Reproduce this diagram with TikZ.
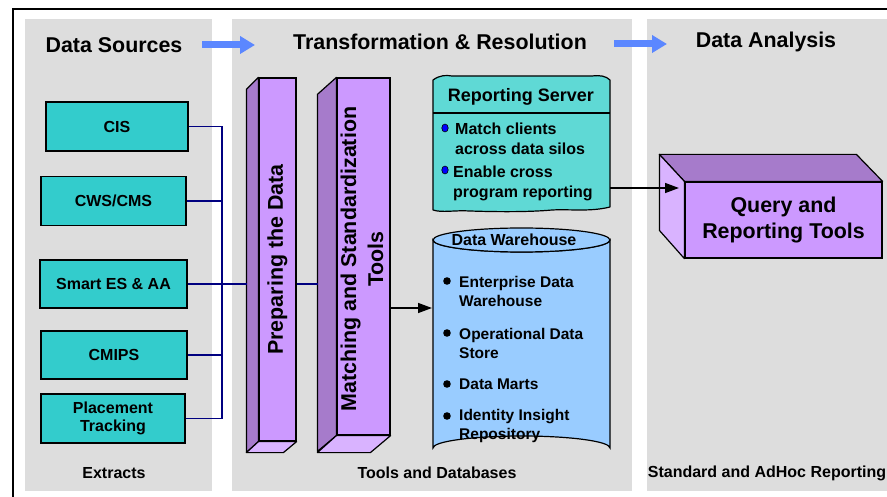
\documentclass[tikz,border=0pt]{standalone}
\usepackage{fontspec}
\setmainfont{Liberation Sans}
\usetikzlibrary{arrows.meta,calc}
\definecolor{panelgray}{HTML}{DDDDDD}
\definecolor{tealbox}{HTML}{33CCCC}
\definecolor{tealsrv}{HTML}{5FD9D5}
\definecolor{cylblue}{HTML}{99CCFF}
\definecolor{pfront}{HTML}{CC99FF}
\definecolor{pdark}{HTML}{A67BCB}
\definecolor{plight}{HTML}{D9B3FF}
\definecolor{bluearr}{HTML}{5B87FF}
\definecolor{navyline}{HTML}{000080}
\begin{document}
\begin{tikzpicture}[x=1pt,y=-1pt,
  panelbox/.style={fill=panelgray,draw=none},
  titletext/.style={font=\fontsize{21.4}{25}\selectfont\bfseries,inner sep=0pt},
  foottext/.style={font=\fontsize{16}{18}\selectfont\bfseries,inner sep=0pt},
  srcbox/.style={draw=black,line width=1.2pt,fill=tealbox,align=center,inner sep=0pt,
    font=\fontsize{16}{17}\selectfont\bfseries},
  colface/.style={draw=black,line width=1.2pt,fill=pfront,inner sep=0pt},
  sideface/.style={draw=black,line width=1.2pt,fill=pdark,line join=round},
  lightface/.style={draw=black,line width=1.2pt,fill=plight,line join=round},
  coltext/.style={font=\fontsize{21.4}{27}\selectfont\bfseries,align=center,inner sep=0pt},
  itemtext/.style={font=\fontsize{15.5}{19}\selectfont\bfseries,align=left,inner sep=0pt,anchor=west},
  srvtext/.style={font=\fontsize{16}{20}\selectfont\bfseries,align=left,inner sep=0pt,anchor=west},
  busline/.style={draw=navyline,line width=1.5pt},
  bigarrow/.style={draw=bluearr,line width=7pt,-{Triangle[length=15pt,width=17pt]}},
  flowarrow/.style={draw=black,line width=1.5pt,-{Triangle[length=14pt,width=10pt]}}
]
\useasboundingbox (0,0) rectangle (887,497);
% panels
\fill[panelbox] (25,19) rectangle (212,491);
\fill[panelbox] (232,19) rectangle (632,491);
\fill[panelbox] (647,19) rectangle (887,491);
% outer frame
\draw[line width=1.5pt] (13,497) -- (13,9) -- (887,9);

% titles
\node[titletext] (tsrc) at (114,45) {Data Sources};
\node[titletext] (ttrans) at (440,42) {Transformation \& Resolution};
\node[titletext] (tana) at (766,42) {Data Analysis};
\coordinate (a1s) at (202,45); \coordinate (a1e) at (255,45);
\coordinate (a2s) at (614,44); \coordinate (a2e) at (667,44);
\draw[bigarrow] (a1s) -- (a1e);
\draw[bigarrow] (a2s) -- (a2e);

% footers
\node[foottext] (fsrc) at (114,473) {Extracts};
\node[foottext] (ftrans) at (437,473) {Tools and Databases};
\node[foottext] (fana) at (767,473) {Standard and AdHoc Reporting};

% source boxes
\node[srcbox,minimum width=142pt,minimum height=49pt] (cis) at (117,126.5) {CIS};
\node[srcbox,minimum width=145pt,minimum height=49pt] (cws) at (113.5,201) {CWS/CMS};
\node[srcbox,minimum width=147pt,minimum height=48pt] (smart) at (113.5,284) {Smart ES \& AA};
\node[srcbox,minimum width=146pt,minimum height=48pt] (cmips) at (114,355) {CMIPS};
\node[srcbox,minimum width=144pt,minimum height=49pt,font=\fontsize{16}{17.5}\selectfont\bfseries] (place) at (113,418.5) {Placement\\Tracking};

% column 1: Preparing the Data
\node[colface,minimum width=37pt,minimum height=363pt] (prep) at (277.5,259.5) {};
\draw[sideface] (prep.north west) -- ++(-12,12) -- ++(0,363) -- (prep.south west) -- cycle;
\draw[lightface] (prep.south west) -- ++(-12,11) -- ++(37,0) -- (prep.south east) -- cycle;
\node[coltext,rotate=90] (preplabel) at (prep) {Preparing the Data};

% column 2: Matching and Standardization Tools
\node[colface,minimum width=53pt,minimum height=357pt] (match) at (363.5,256.5) {};
\draw[sideface] (match.north west) -- ++(-19,17) -- ++(0,357) -- (match.south west) -- cycle;
\draw[lightface] (match.south west) -- ++(-19,17) -- ++(53,0) -- (match.south east) -- cycle;
\node[coltext,rotate=90] (matchlabel) at (362,259) {Matching and Standardization\\Tools};

% bus connectors
\coordinate (bus) at (222,284);
\coordinate (prepin) at (247,284);
\coordinate (matchin) at (318,284);
\draw[busline] (cis.east) -| (bus);
\draw[busline] (cws.east) -| (bus);
\draw[busline] (cmips.east) -| (bus);
\draw[busline] (place.east) -| (bus);
\draw[busline] (smart.east) -- (prepin);
\draw[busline] (prep.east |- bus) -- (matchin);

% reporting server
\node[minimum width=177pt,minimum height=133pt,inner sep=0pt] (rs) at (521.5,144.5) {};
\draw[fill=tealsrv,line width=1.2pt,line join=round]
  (433,80) .. controls (440,75) and (446,75) .. (452,76) -- (592,76) .. controls (600,75) and (606,76) .. (610,80)
  -- (610,207) .. controls (590,212) and (570,209) .. (552,210) .. controls (530,212) and (500,212) .. (470,211)
  .. controls (455,210) and (442,213) .. (433,210) -- cycle;
\draw[line width=1.2pt] (433,113) -- (610,113);
\node[font=\fontsize{18}{20}\selectfont\bfseries,inner sep=0pt] (rstitle) at (521,97) {Reporting Server};
\fill[blue,draw=black,line width=0.6pt] (445,128) ellipse [x radius=3.2pt,y radius=4pt];
\fill[blue,draw=black,line width=0.6pt] (445,170) ellipse [x radius=3.2pt,y radius=4pt];
\node[srvtext] (rs1) at (455,139) {Match clients\\across data silos};
\node[srvtext] (rs2) at (453,183) {Enable cross\\program reporting};

% data warehouse cylinder
\node[minimum width=177pt,minimum height=232pt,inner sep=0pt] (dw) at (521.5,344) {};
\draw[fill=cylblue,line width=1.2pt]
  (433,240) -- (433,448) arc[start angle=180,end angle=0,x radius=88.5pt,y radius=12pt]
  -- (610,240) arc[start angle=0,end angle=-180,x radius=88.5pt,y radius=12pt] -- cycle;
\draw[fill=cylblue,line width=1.2pt] (521.5,240) ellipse [x radius=88.5pt,y radius=12pt];
\node[font=\fontsize{16}{18}\selectfont\bfseries,inner sep=0pt] (dwtitle) at (514,240) {Data Warehouse};
\foreach \yy in {281,333,384,416} { \fill (447,\yy) circle [radius=3.8pt]; }
\node[itemtext] (dw1) at (459,291) {Enterprise Data\\Warehouse};
\node[itemtext] (dw2) at (459,343) {Operational Data\\Store};
\node[itemtext] (dw3) at (459,384) {Data Marts};
\node[itemtext] (dw4) at (459,426) {Identity Insight\\Repository};

% query and reporting tools
\node[colface,minimum width=197pt,minimum height=76pt,font=\fontsize{21.4}{26}\selectfont\bfseries,align=center] (qt) at (783.5,220) {Query and\\Reporting Tools};
\draw[sideface] (qt.north west) -- ++(-25,-27) -- ++(197,0) -- (qt.north east) -- cycle;
\draw[lightface] (qt.north west) -- ++(-25,-27) -- ++(0,76) -- (qt.south west) -- cycle;

% flow arrows
\coordinate (dwin) at (432,308);
\coordinate (qtin) at (679,188);
\draw[flowarrow] (match.east |- dwin) -- (dwin);
\draw[flowarrow] (rs.east |- qtin) -- (qtin);
\end{tikzpicture}
\end{document}
